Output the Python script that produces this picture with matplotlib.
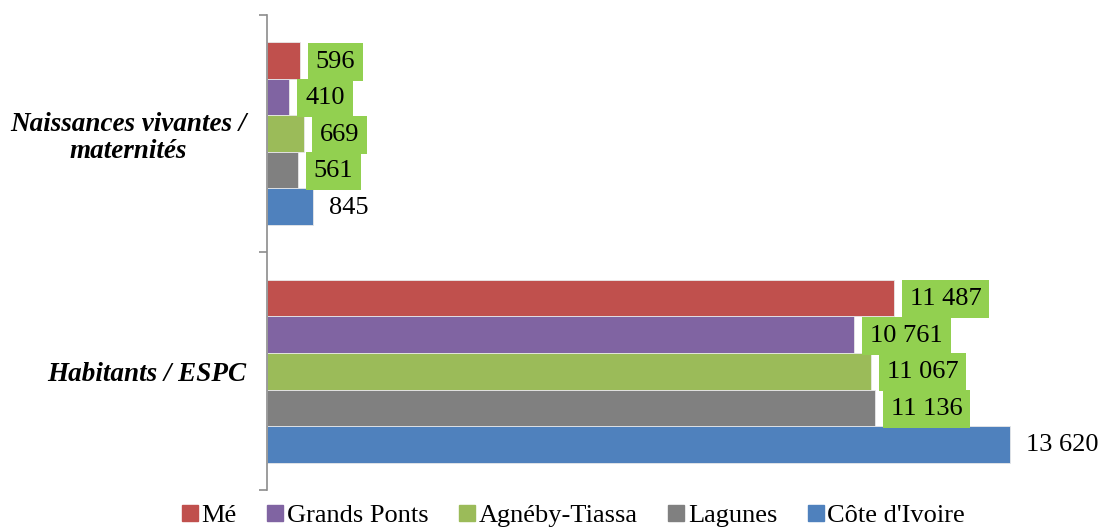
"""Indicateurs de couverture sanitaire par région"""

import matplotlib
matplotlib.use("Agg")
from matplotlib import pyplot as plt
from matplotlib.lines import Line2D
import numpy as np

categories = ["Habitants / ESPC", "Naissances vivantes /\nmaternités"]
series = ["Mé", "Grands Ponts", "Agnéby-Tiassa", "Lagunes", "Côte d'Ivoire"]
colors = ["#C0504D", "#8064A2", "#9BBB59", "#808080", "#4F81BD"]
# values per series: [Habitants / ESPC, Naissances vivantes / maternités]
values = {
    "Mé": [11487, 596],
    "Grands Ponts": [10761, 410],
    "Agnéby-Tiassa": [11067, 669],
    "Lagunes": [11136, 561],
    "Côte d'Ivoire": [13620, 845],
}
boxed = {"Mé": True, "Grands Ponts": True, "Agnéby-Tiassa": True,
         "Lagunes": True, "Côte d'Ivoire": False}


def fmt(v):
    return f"{v:,}".replace(",", " ")


plt.rcParams["font.family"] = ["Liberation Serif", "DejaVu Serif"]

fig = plt.figure(figsize=(11.02, 5.31), dpi=100)
ax = fig.add_axes([0.2423, 0.0772, 0.7426, 0.8946])

bar_h = 0.1537
y = np.arange(len(categories))
for i, name in enumerate(series):
    # first series on top of each group
    ypos = y + (2 - i) * bar_h
    bars = ax.barh(ypos, values[name], height=bar_h, color=colors[i],
                   edgecolor="#e8e8e8", linewidth=0.6)
    for b, v in zip(bars, values[name]):
        kw = {}
        if boxed[name]:
            kw["bbox"] = dict(boxstyle="square,pad=0.3", fc="#92D050",
                              ec="none")
        ax.annotate(fmt(v), (v, b.get_y() + b.get_height() / 2),
                    xytext=(16, -1), textcoords="offset pixels",
                    va="center", ha="left", fontsize=19, **kw)

ax.set_xlim(0, 15000)
ax.set_ylim(-0.5, 1.5)
ax.set_xticks([])
for s in ["top", "right", "bottom"]:
    ax.spines[s].set_visible(False)
ax.spines["left"].set_color("#8c8c8c")
ax.spines["left"].set_linewidth(1.2)

ax.set_yticks(y)
ax.set_yticklabels(categories, fontsize=19.5, fontweight="bold",
                   fontstyle="italic", multialignment="center",
                   linespacing=1.1)
ax.tick_params(axis="y", which="major", length=0, pad=15)
ax.set_yticks([-0.5, 0.5, 1.5], minor=True)
ax.tick_params(axis="y", which="minor", length=6, width=1.2,
               color="#8c8c8c")

handles = [Line2D([], [], marker="s", linestyle="none", markersize=11,
                  color=c) for c in colors]
fig.legend(handles, series, loc="lower center", ncol=5,
           bbox_to_anchor=(0.5204, -0.038), frameon=False, fontsize=19,
           handlelength=0.6, handletextpad=0.15, columnspacing=1.15)

fig.savefig("out.png", dpi=100)
